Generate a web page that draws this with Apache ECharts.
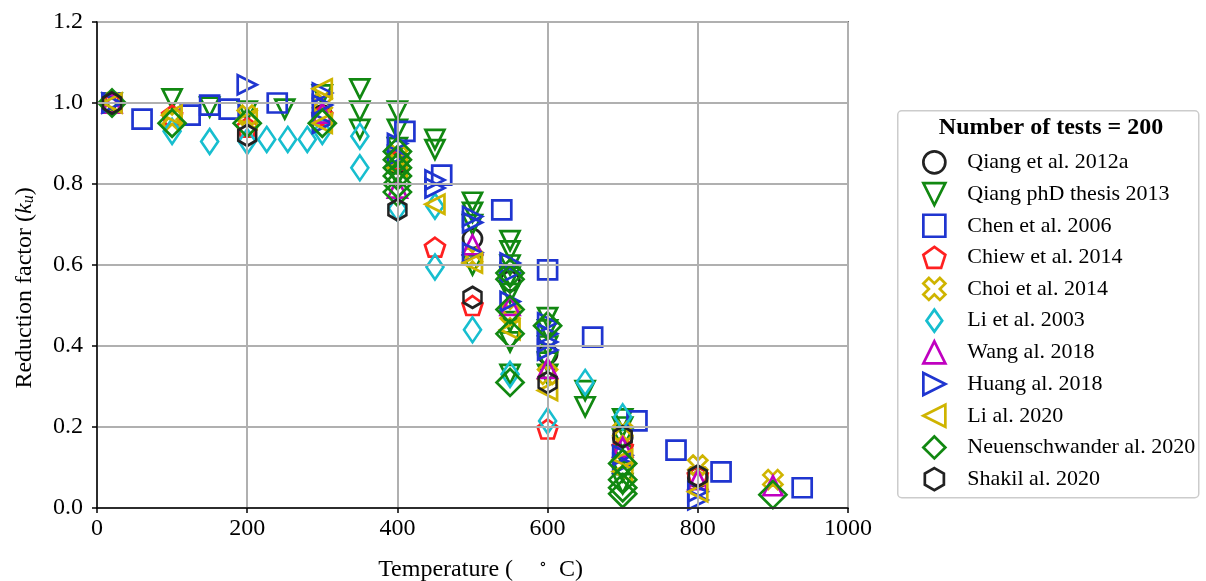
<!DOCTYPE html>
<html><head><meta charset="utf-8">
<script src="https://cdn.jsdelivr.net/npm/echarts@6/dist/echarts.min.js"></script>
<style>html,body{margin:0;padding:0;background:#fff}#c{width:1206px;height:581px}</style>
</head><body><div id="c"></div>
<script>
// ---- data: [temperature (°C), reduction factor k_u] ----
const seriesNames = ['Qiang et al. 2012a','Qiang phD thesis 2013','Chen et al. 2006','Chiew et al. 2014','Choi et al. 2014','Li et al. 2003','Wang al. 2018','Huang al. 2018','Li al. 2020','Neuenschwander al. 2020','Shakil al. 2020'];
const xTicks = [0,200,400,600,800,1000];
const yTicks = [0.0,0.2,0.4,0.6,0.8,1.0,1.2];
const legendTitle = 'Number of tests = 200';

const qiang2012a = [[20,1.0],[300,0.97],[400,0.85],[500,0.665],[550,0.56],[600,0.38],[700,0.175],[800,0.075]];
const qiangPhd2013 = [[20,1.0],[100,1.01],[150,0.99],[200,0.98],[250,0.985],[300,1.02],[350,1.035],[350,0.98],[350,0.935],[400,0.98],[400,0.935],[400,0.89],[400,0.85],[400,0.82],[450,0.91],[450,0.885],[500,0.755],[500,0.73],[500,0.70],[500,0.60],[550,0.66],[550,0.635],[550,0.60],[550,0.57],[550,0.53],[550,0.46],[550,0.41],[550,0.33],[600,0.47],[600,0.44],[600,0.40],[600,0.36],[600,0.33],[650,0.29],[650,0.25],[700,0.22],[700,0.20],[700,0.17],[700,0.13],[700,0.09],[700,0.06]];
const chen2006 = [[20,1.0],[60,0.96],[124,0.97],[150,0.995],[176,0.985],[240,1.0],[410,0.93],[459,0.822],[539,0.736],[600,0.588],[660,0.422],[719,0.215],[771,0.143],[831,0.089],[939,0.05]];
const chiew2014 = [[20,1.0],[100,0.97],[200,0.94],[300,0.97],[400,0.86],[450,0.644],[500,0.5],[600,0.195],[700,0.15],[800,0.08]];
const choi2014 = [[20,1.0],[100,0.96],[200,0.97],[300,1.0],[400,0.87],[500,0.62],[550,0.48],[600,0.33],[700,0.19],[800,0.106],[900,0.07]];
const li2003 = [[100,0.93],[150,0.905],[200,0.905],[226,0.91],[254,0.91],[280,0.91],[300,0.93],[350,0.918],[350,0.84],[400,0.74],[450,0.745],[450,0.595],[500,0.44],[550,0.33],[600,0.215],[650,0.31],[700,0.225]];
const wang2018 = [[20,1.0],[300,0.975],[400,0.79],[500,0.65],[550,0.5],[600,0.345],[700,0.15],[800,0.07],[900,0.055]];
const huang2018 = [[20,1.0],[200,1.045],[300,1.025],[300,0.995],[300,0.95],[400,0.9],[400,0.87],[450,0.81],[450,0.79],[500,0.72],[500,0.705],[500,0.63],[550,0.605],[550,0.58],[550,0.51],[600,0.457],[600,0.43],[600,0.41],[600,0.39],[700,0.13],[700,0.11],[800,0.04],[800,0.02]];
const li2020 = [[20,1.0],[100,0.97],[200,0.96],[300,1.035],[300,0.95],[400,0.84],[450,0.75],[500,0.605],[550,0.44],[600,0.29],[700,0.12],[700,0.09],[800,0.04]];
const neuen2020 = [[20,1.0],[100,0.95],[200,0.95],[300,0.95],[400,0.88],[400,0.86],[400,0.84],[400,0.82],[400,0.80],[400,0.78],[550,0.58],[550,0.565],[550,0.49],[550,0.43],[550,0.31],[600,0.45],[700,0.11],[700,0.07],[700,0.05],[700,0.035],[900,0.033]];
const shakil2020 = [[20,1.0],[200,0.92],[400,0.736],[500,0.52],[600,0.31],[700,0.176],[800,0.079]];

const allData = [qiang2012a,qiangPhd2013,chen2006,chiew2014,choi2014,li2003,wang2018,huang2018,li2020,neuen2020,shakil2020];

// ---- styles ----
const SERIF = "'Liberation Serif','DejaVu Serif',serif";
const P = {
  downTri: 'path://M0,0 L20,0 L10,20 Z',
  upTri: 'path://M10,0 L20,20 L0,20 Z',
  rightTri: 'path://M0,0 L20,10 L0,20 Z',
  leftTri: 'path://M20,0 L0,10 L20,20 Z',
  pentagon: 'path://M50,0 L97.55,34.55 L79.39,90.45 L20.61,90.45 L2.45,34.55 Z',
  hexagon: 'path://M50,0 L93.3,25 L93.3,75 L50,100 L6.7,75 L6.7,25 Z',
  xfill: 'path://M10,0 L20,10 L30,0 L40,10 L30,20 L40,30 L30,40 L20,30 L10,40 L0,30 L10,20 L0,10 Z',
  thinDiamond: 'path://M10,0 L20,14 L10,28 L0,14 Z'
};
const styles = [
  {symbol:'circle', size:19, color:'#222222'},
  {symbol:P.downTri, size:[19,19], color:'#118811'},
  {symbol:'rect', size:19, color:'#1f35d0'},
  {symbol:P.pentagon, size:[20,19], color:'#ff2020'},
  {symbol:P.xfill, size:[19,19], color:'#cfb400'},
  {symbol:P.thinDiamond, size:[17,25], color:'#17becf'},
  {symbol:P.upTri, size:[19,19], color:'#c000c0'},
  {symbol:P.rightTri, size:[19,19], color:'#1f35d0'},
  {symbol:P.leftTri, size:[19,19], color:'#cfb400'},
  {symbol:'diamond', size:[27,27], color:'#118811'},
  {symbol:P.hexagon, size:[18,21], color:'#222222'}
];

const series = seriesNames.map((n,i)=>({
  name:n, type:'scatter', z:2,
  data: allData[i],
  symbol: styles[i].symbol, symbolSize: styles[i].size,
  itemStyle:{color:'rgba(0,0,0,0)', borderColor: styles[i].color, borderWidth:2.7, opacity:1},
  emphasis:{disabled:true}
}));

const chart = echarts.init(document.getElementById('c'), null, {renderer:'canvas'});
chart.setOption({
  animation:false,
  backgroundColor:'#fff',
  grid:{left:97, right:358, top:22, bottom:73, show:true, borderColor:'#000', borderWidth:1.5, backgroundColor:'rgba(0,0,0,0)', z:3, containLabel:false, outerBoundsMode:'none'},
  xAxis:{
    type:'value', min:0, max:1000, interval:200, z:3,
    name:'{a|Temperature (}{g|}{s|∘}{g2|}{a|C)}', nameLocation:'middle', nameGap:49,
    nameTextStyle:{padding:[0,0,0,16], rich:{a:{fontFamily:SERIF, fontSize:24, color:'#000'}, g:{width:26}, g2:{width:12}, s:{fontFamily:SERIF, fontSize:16, color:'#000', padding:[0,0,10,0]}}},
    axisLine:{show:true, onZero:false, lineStyle:{color:'#000', width:1.5}},
    axisTick:{show:true, length:5, inside:false, lineStyle:{color:'#000', width:1.5}},
    axisLabel:{fontFamily:SERIF, fontSize:24, color:'#000', margin:9, formatter:v=>xTicks.includes(v)?String(v):''},
    splitLine:{show:true, lineStyle:{color:'#b0b0b0', width:2}}
  },
  yAxis:{
    type:'value', min:0, max:1.2, interval:0.2, z:3,
    name:'{a|Reduction factor (}{i|k}{s|u}{a|)}', nameLocation:'middle', nameGap:60, nameRotate:90,
    nameTextStyle:{padding:[0,46,0,0], rich:{a:{fontFamily:SERIF, fontSize:24, color:'#000'}, i:{fontFamily:SERIF, fontStyle:'italic', fontSize:24, color:'#000'}, s:{fontFamily:SERIF, fontStyle:'italic', fontSize:16, color:'#000', padding:[8,0,0,0]}}},
    axisLine:{show:true, onZero:false, lineStyle:{color:'#000', width:1.5}},
    axisTick:{show:true, length:5, inside:false, lineStyle:{color:'#000', width:1.5}},
    axisLabel:{fontFamily:SERIF, fontSize:24, color:'#000', margin:14, formatter:v=>v.toFixed(1)},
    splitLine:{show:true, lineStyle:{color:'#b0b0b0', width:2}}
  },
  legend:{
    orient:'vertical', left:917, top:145, itemWidth:22, itemHeight:22, itemGap:7,
    selectedMode:false, symbolKeepAspect:true,
    textStyle:{fontFamily:SERIF, fontSize:22, lineHeight:24.5, color:'#000', padding:[0,0,0,17]},
    data: seriesNames.map((n,i)=>({name:n, icon:styles[i].symbol,
      itemStyle:{color:'rgba(0,0,0,0)', borderColor:styles[i].color, borderWidth:2.7}}))
  },
  graphic:[
    {type:'rect', left:897, top:110, shape:{width:301, height:387, r:4}, style:{fill:'#fff', stroke:'#cccccc', lineWidth:1.5}, z:-1, silent:true},
    {type:'text', x:1051, y:128, style:{text:legendTitle, font:"bold 24px 'Liberation Serif','DejaVu Serif',serif", fill:'#000', textAlign:'center', textVerticalAlign:'middle'}, silent:true}
  ],
  series: series
});
</script>
</body></html>
